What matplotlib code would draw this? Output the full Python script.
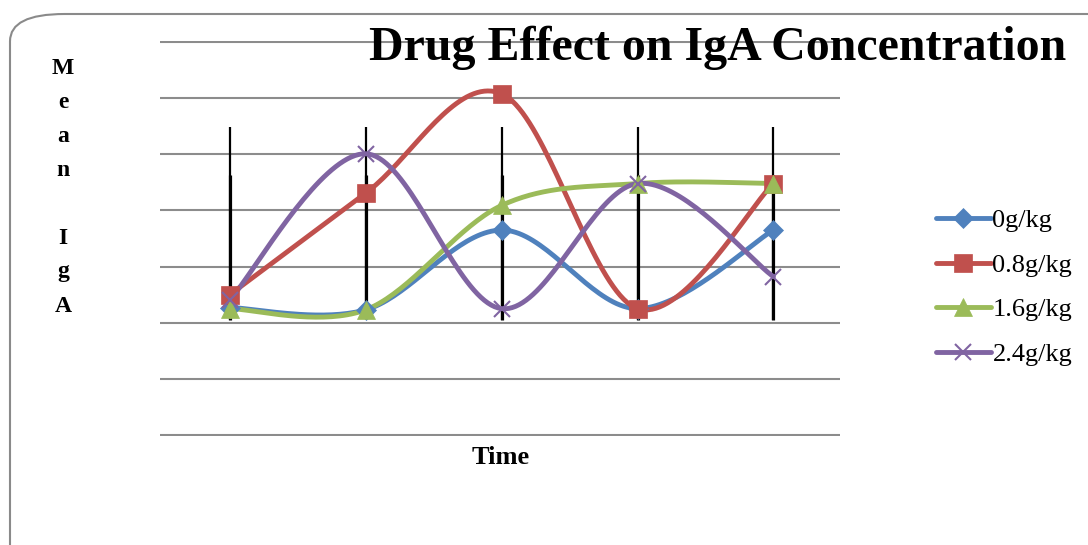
import numpy as np
import matplotlib
matplotlib.use('Agg')
import matplotlib.pyplot as plt
from matplotlib.patches import FancyBboxPatch

# data (gridline units, 0 = bottom gridline)
times = [0, 1, 2, 3, 4]
series_names = ['0g/kg', '0.8g/kg', '1.6g/kg', '2.4g/kg']
iga_0 = [2.27, 2.23, 3.65, 2.25, 3.65]
iga_08 = [2.50, 4.31, 6.08, 2.25, 4.48]
iga_16 = [2.25, 2.23, 4.09, 4.48, 4.48]
iga_24 = [2.41, 5.01, 2.25, 4.48, 2.82]
err_top = [5.48, 5.48, 5.48, 5.48, 5.48]
err_mid = [4.63, 4.63, 4.63, 4.63, 4.63]
err_bottom = [2.05, 2.08, 2.05, 2.05, 2.05]

colors = ['#4F81BD', '#C0504D', '#9BBB59', '#8064A2']
markers = ['D', 's', '^', 'x']
msizes = [10, 13, 13, 11]


def smooth(x, y, n=40):
    # excel-style smoothed line (bezier with catmull-rom control points)
    x = np.asarray(x, float)
    y = np.asarray(y, float)
    pts = np.column_stack([x, y])
    out = []
    for i in range(len(pts) - 1):
        p0 = pts[i - 1] if i > 0 else pts[i]
        p1 = pts[i]
        p2 = pts[i + 1]
        p3 = pts[i + 2] if i + 2 < len(pts) else pts[i + 1]
        c1 = p1 + (p2 - p0) / 6.0
        c2 = p2 - (p3 - p1) / 6.0
        t = np.linspace(0, 1, n)[:, None]
        seg = ((1 - t) ** 3) * p1 + 3 * ((1 - t) ** 2) * t * c1 + 3 * (1 - t) * t ** 2 * c2 + t ** 3 * p2
        out.append(seg)
    s = np.vstack(out)
    return s[:, 0], s[:, 1]


fig = plt.figure(figsize=(10.88, 5.45), dpi=100)
border = FancyBboxPatch((10 / 1088, -0.05), 1.1, 1.05 - 14 / 545,
                        boxstyle='round,pad=0,rounding_size=0.05',
                        transform=fig.transFigure, fill=False,
                        edgecolor='#8a8a8a', linewidth=1.5, zorder=0)
fig.patches.append(border)

ax = fig.add_axes([160 / 1088, 109 / 545, 680 / 1088, 395 / 545])
ax.set_xlim(-0.515, 4.49)
ax.set_ylim(-0.02, 7.02)
ax.set_yticks(range(0, 8))
ax.set_xticks([])
ax.tick_params(left=False, labelleft=False)
ax.grid(axis='y', color='#8c8c8c', linewidth=1.5)
ax.set_axisbelow(True)
for sp in ax.spines.values():
    sp.set_visible(False)

ax.vlines(times, err_bottom, err_top, color='black', linewidth=1.6, zorder=2)
ax.vlines(times, err_bottom, err_mid, color='black', linewidth=2.3, zorder=2)

all_series = [iga_0, iga_08, iga_16, iga_24]
for vals, name, c, m, ms in zip(all_series, series_names, colors, markers, msizes):
    mew = 1.5 if m == 'x' else 0.5
    sx, sy = smooth(times, vals)
    ax.plot(sx, sy, color=c, linewidth=3.5, zorder=3, solid_capstyle='round')
    ax.plot(times, vals, linestyle='none', marker=m, markersize=ms, color=c,
            markeredgewidth=mew, zorder=4)
    ax.plot([], [], color=c, linewidth=3.5, marker=m, markersize=ms, label=name,
            markeredgewidth=mew, solid_capstyle='round')

serif = ['Liberation Serif', 'DejaVu Serif']
leg = fig.legend(loc='upper left', bbox_to_anchor=(912 / 1088, 1 - 185 / 545),
                 frameon=False, prop={'family': serif, 'size': 19},
                 handlelength=2.1, handletextpad=0.05, labelspacing=0.8)

fig.text(718 / 1088, 1 - 48 / 545, 'Drug Effect on IgA Concentration', ha='center', va='center',
         family=serif, fontweight='bold', fontsize=34.5)
fig.text(501 / 1088, 1 - 458 / 545, 'Time', ha='center', va='center',
         family=serif, fontweight='bold', fontsize=19)
ylab = ['M', 'e', 'a', 'n', '', 'I', 'g', 'A']
for i, ch in enumerate(ylab):
    fig.text(63 / 1088, 1 - (68 + 34 * i) / 545, ch, ha='center', va='center',
             family=serif, fontweight='bold', fontsize=17)

fig.savefig('out.png', dpi=100)
